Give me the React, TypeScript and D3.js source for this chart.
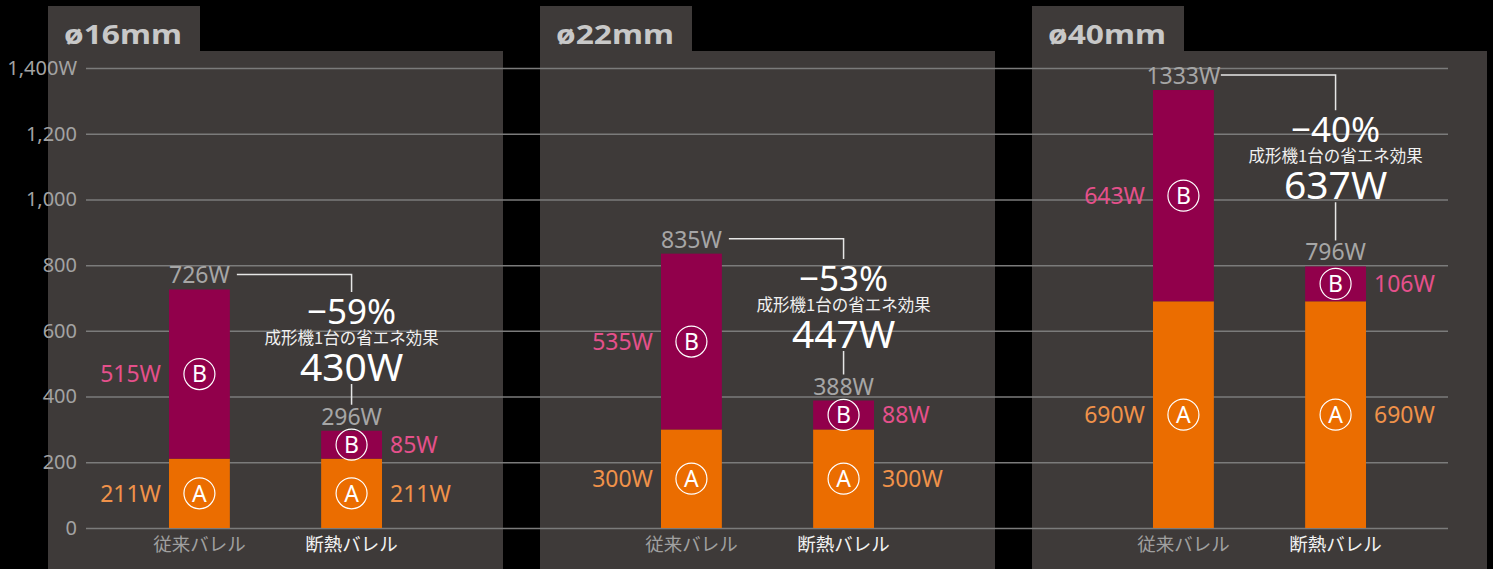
import React, { useEffect, useRef } from 'react';
import * as d3 from 'd3';

// chart data
const panels = ['ø16mm', 'ø22mm', 'ø40mm'];
const categories = ['従来バレル', '断熱バレル'];
const seriesA = [[211, 211], [300, 300], [690, 690]];
const seriesB = [[515, 85], [535, 88], [643, 106]];
const reduction = ['−59%', '−53%', '−40%'];
const savings = ['430W', '447W', '637W'];
const subtitle = '成形機1台の省エネ効果';
const yTicks = [0, 200, 400, 600, 800, 1000, 1200, 1400];

const W = 1493;
const H = 569;
const LATIN = '"Noto Sans", "Noto Sans CJK JP", sans-serif';
const CJK = '"Noto Sans CJK JP", "Noto Sans", sans-serif';

const ORANGE = '#eb6d00';
const MAGENTA = '#91004b';
const ORANGE_TXT = '#f0924a';
const PINK_TXT = '#e5508b';

const App: React.FC = () => {
  const ref = useRef<SVGSVGElement | null>(null);

  useEffect(() => {
    const svg = d3.select(ref.current);
    svg.selectAll('*').remove();

    const y = d3.scaleLinear().domain([0, 1400]).range([528, 68]);
    const panelX = d3.scaleBand<string>().domain(panels).range([48, 48 + 492 * 3]);
    // bar positions inside a panel
    const barX = d3.scaleBand<string>().domain(categories).range([121, 334]).paddingInner(0.6);
    const bw = barX.bandwidth();

    svg.append('rect').attr('width', W).attr('height', H).attr('fill', '#000');

    // panel backgrounds
    panels.forEach(p => {
      const px = panelX(p)!;
      svg.append('rect').attr('x', px).attr('y', 51).attr('width', 455).attr('height', H - 51).attr('fill', '#3e3a39');
      svg.append('rect').attr('x', px).attr('y', 6).attr('width', 152).attr('height', 46).attr('fill', '#3e3a39');
      svg.append('text')
        .attr('x', px + 16).attr('y', 43.5)
        .attr('font-family', LATIN).attr('font-weight', 700).attr('font-size', 27)
        .attr('textLength', 118).attr('lengthAdjust', 'spacingAndGlyphs')
        .attr('fill', '#c8c8c8')
        .text(p);
    });

    // y axis + gridlines
    const fmt = d3.format(',');
    const axis = svg.append('g')
      .attr('transform', 'translate(86,0)')
      .call(d3.axisLeft(y).tickValues(yTicks).tickSize(-(1448 - 86)).tickPadding(9)
        .tickFormat(d => (+d === 1400 ? fmt(+d) + 'W' : fmt(+d))));
    axis.select('.domain').remove();
    axis.selectAll('.tick line').attr('stroke', '#7b7b7b').attr('stroke-width', 1.5);
    axis.selectAll('.tick text')
      .attr('fill', '#a3a3a3').attr('font-size', 20).attr('font-family', LATIN);

    panels.forEach((p, pi) => {
      const px = panelX(p)!;
      const g = svg.append('g').attr('transform', `translate(${px},0)`);

      categories.forEach((c, ci) => {
        const a = seriesA[pi][ci];
        const b = seriesB[pi][ci];
        const x0 = barX(c)!;
        const cx = x0 + bw / 2;

        g.append('rect').attr('x', x0).attr('y', y(a)).attr('width', bw).attr('height', y(0) - y(a)).attr('fill', ORANGE);
        g.append('rect').attr('x', x0).attr('y', y(a + b)).attr('width', bw).attr('height', y(a) - y(a + b)).attr('fill', MAGENTA);

        const segs = [
          { lo: 0, hi: a, letter: 'A', color: ORANGE_TXT, val: a },
          { lo: a, hi: a + b, letter: 'B', color: PINK_TXT, val: b },
        ];
        segs.forEach(s => {
          const my = y((s.lo + s.hi) / 2);
          g.append('circle').attr('cx', cx).attr('cy', my).attr('r', 15.5)
            .attr('fill', 'none').attr('stroke', '#fff').attr('stroke-width', 1.2);
          g.append('text').attr('x', cx).attr('y', my).attr('dy', '0.36em')
            .attr('text-anchor', 'middle').attr('font-family', LATIN).attr('font-size', 23)
            .attr('fill', '#fff').text(s.letter);
          g.append('text')
            .attr('x', ci === 0 ? x0 - 8 : x0 + bw + 8).attr('y', my).attr('dy', '0.36em')
            .attr('text-anchor', ci === 0 ? 'end' : 'start')
            .attr('font-family', LATIN).attr('font-size', 23).attr('fill', s.color)
            .text(`${s.val}W`);
        });

        // total
        g.append('text').attr('x', cx).attr('y', y(a + b) - 6)
          .attr('text-anchor', 'middle').attr('font-family', LATIN).attr('font-size', 23)
          .attr('fill', '#a6a6a6').text(`${a + b}W`);

        // category
        g.append('text').attr('x', cx).attr('y', y(0) + 23)
          .attr('text-anchor', 'middle').attr('font-family', CJK).attr('font-size', 18.5)
          .attr('fill', ci === 0 ? '#a0a0a0' : '#f2f2f2').text(c);
      });

      // saving annotation
      const t1 = seriesA[pi][0] + seriesB[pi][0];
      const t2 = seriesA[pi][1] + seriesB[pi][1];
      const xl = barX(categories[0])! + bw + 7;
      const xr = barX(categories[1])! + bw / 2;
      const connY = y(t1) - 6 - 9;
      const t2Base = y(t2) - 6;
      const mid = (connY + t2Base) / 2 + 3;
      const pctBase = mid - 28.5;
      const subBase = mid - 8.5;
      const savBase = mid + 28.5;

      g.append('path')
        .attr('d', `M${xl},${connY}H${xr}V${pctBase - 32}M${xr},${savBase + 3}V${t2Base - 20}`)
        .attr('fill', 'none').attr('stroke', '#e6e6e6').attr('stroke-width', 1.5);
      g.append('text').attr('x', xr).attr('y', pctBase).attr('text-anchor', 'middle')
        .attr('font-family', LATIN).attr('font-size', 35).attr('fill', '#fff').text(reduction[pi]);
      g.append('text').attr('x', xr).attr('y', subBase).attr('text-anchor', 'middle')
        .attr('font-family', CJK).attr('font-size', 16.5).attr('fill', '#f0f0f0').text(subtitle);
      g.append('text').attr('x', xr).attr('y', savBase).attr('text-anchor', 'middle')
        .attr('font-family', LATIN).attr('font-size', 39).attr('fill', '#fff').text(savings[pi]);
    });
  }, []);

  return (
    <svg ref={ref} width={W} height={H}
      style={{ position: 'absolute', left: 0, top: 0, display: 'block' }} />
  );
};

export default App;
